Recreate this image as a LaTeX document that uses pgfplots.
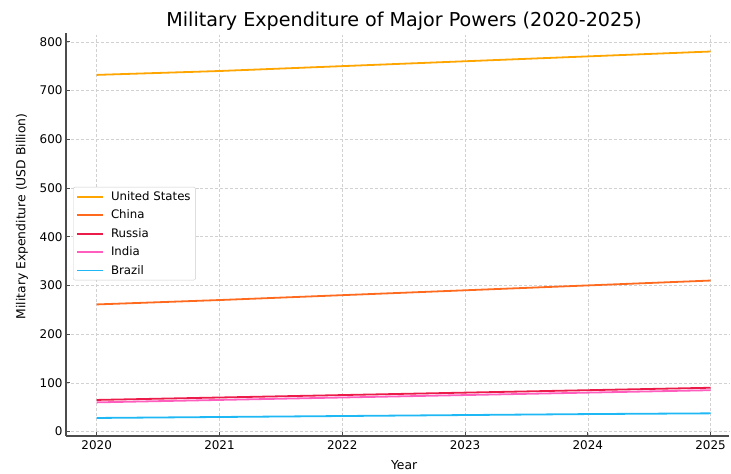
\documentclass[border=0pt]{standalone}
\usepackage{fontspec}
\setmainfont{DejaVu Sans}
\usepackage{pgfplots}
\pgfplotsset{compat=1.18}
\definecolor{cUS}{HTML}{FFA500}
\definecolor{cCN}{HTML}{FF6A1F}
\definecolor{cRU}{HTML}{EC1C4A}
\definecolor{cIN}{HTML}{FF5EBF}
\definecolor{cBR}{HTML}{1EB8F5}
\begin{document}
\begin{tikzpicture}
\begin{axis}[
  scale only axis,
  width=663bp, height=403bp,
  xmin=2019.75, xmax=2025.15,
  ymin=-9, ymax=818,
  axis lines*=left,
  axis line style={-, draw=black!70, line width=1.1pt},
  xtick={2020,2021,2022,2023,2024,2025},
  ytick={0,100,200,300,400,500,600,700,800},
  tick align=inside,
  major tick length=4pt,
  tick style={draw=black!70, line width=0.8pt},
  grid=major,
  grid style={densely dashed, draw=black!18, line width=0.5pt},
  /pgf/number format/assume math mode=true,
  x tick label style={/pgf/number format/1000 sep={}, font=\fontsize{12}{14}\selectfont, yshift=-1pt},
  y tick label style={font=\fontsize{12}{14}\selectfont},
  title={Military Expenditure of Major Powers (2020-2025)},
  every axis title/.style={at={(axis description cs:0.51,1.0149)}, anchor=base, font=\fontsize{19.2}{22}\selectfont},
  xlabel={Year},
  ylabel={Military Expenditure (USD Billion)},
  every axis x label/.style={at={(axis description cs:0.51,-0.0819)}, anchor=base, font=\fontsize{12.4}{14}\selectfont},
  every axis y label/.style={at={(axis description cs:-0.0664,0.545)}, anchor=center, rotate=90, font=\fontsize{12.4}{14}\selectfont},
  legend style={at={(0.0106,0.618)}, anchor=north west, font=\fontsize{11.8}{14}\selectfont,
    draw=black!20, rounded corners=2pt, inner xsep=3pt, inner ysep=2.5pt, row sep=4pt,
    /tikz/every odd column/.append style={column sep=5bp}},
  legend cell align=left,
  legend image code/.code={\draw[mark repeat=2,mark phase=2,#1] plot coordinates {(0bp,0bp) (13bp,0bp) (26bp,0bp)};},
  every axis plot/.append style={line width=1.8bp},
]
\addplot[color=cUS] coordinates {(2020,732) (2021,740) (2022,750) (2023,760) (2024,770) (2025,780)};
\addlegendentry{United States}
\addplot[color=cCN] coordinates {(2020,261) (2021,270) (2022,280) (2023,290) (2024,300) (2025,310)};
\addlegendentry{China}
\addplot[color=cRU] coordinates {(2020,65) (2021,70) (2022,75) (2023,80) (2024,85) (2025,90)};
\addlegendentry{Russia}
\addplot[color=cIN] coordinates {(2020,60) (2021,65) (2022,70) (2023,75) (2024,80) (2025,85)};
\addlegendentry{India}
\addplot[color=cBR] coordinates {(2020,28) (2021,30) (2022,32) (2023,34) (2024,36) (2025,37.5)};
\addlegendentry{Brazil}
\end{axis}
\pgfresetboundingbox
\path[use as bounding box] ([shift={(-66bp,-38bp)}]current axis.south west) rectangle ([shift={(2bp,33bp)}]current axis.north east);
\end{tikzpicture}
\end{document}
